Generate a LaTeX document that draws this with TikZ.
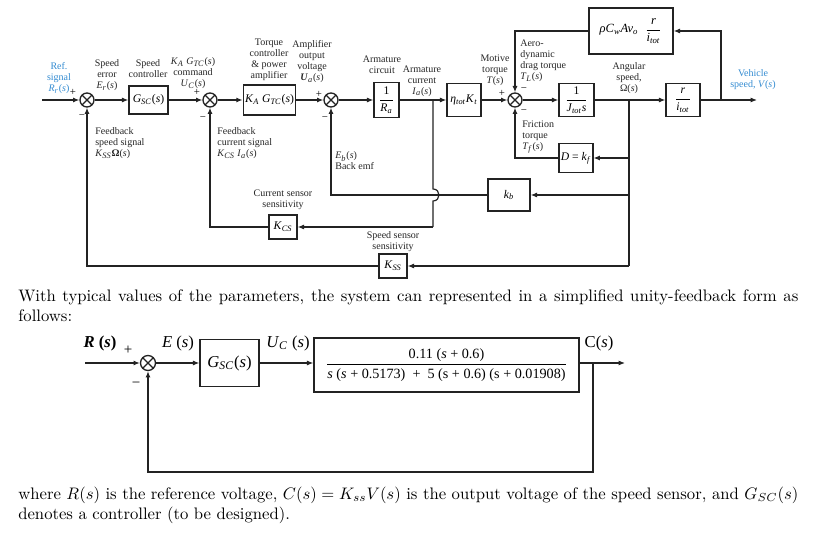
\documentclass[tikz,border=0pt]{standalone}
\usepackage{fontspec}
\newfontfamily\tnr{Liberation Serif}
\usetikzlibrary{arrows.meta}
\definecolor{refblue}{RGB}{52,140,210}
\definecolor{ln}{RGB}{35,35,35}
\newcommand\iv[1]{\textit{#1}}
\newcommand\sbs[1]{\textsubscript{#1}}
\begin{document}
\begin{tikzpicture}[x=0.6pt,y=-0.6pt,
  lbl/.style={font=\tnr\fontsize{6}{6.6}\selectfont, align=center, inner sep=0pt, text=black!85},
  lbll/.style={lbl, align=left, anchor=west},
  sgn/.style={font=\tnr\fontsize{6.5}{6.5}\selectfont, inner sep=0pt},
  blk/.style={draw=ln, line width=0.85pt, inner sep=1pt, font=\tnr\fontsize{7}{8}\selectfont},
  blkb/.style={draw=ln, line width=0.85pt, inner sep=1pt, font=\tnr\fontsize{10}{11}\selectfont},
  sumj/.style={circle, draw=ln, line width=0.8pt, minimum size=8.4pt, inner sep=0pt,
    path picture={\draw[ln,line width=0.7pt] (path picture bounding box.north west)--(path picture bounding box.south east)
      (path picture bounding box.north east)--(path picture bounding box.south west);}},
  wire/.style={draw=ln, line width=0.7pt},
  arr/.style={wire, -{Latex[length=3.8pt,width=3pt]}},
  blbl/.style={font=\tnr\fontsize{10}{11}\selectfont, inner sep=0pt},
]
\fill[white] (0,0) rectangle (820,540);
\useasboundingbox (0,0) rectangle (820,540);

% ---------- upper diagram: blocks ----------
\node[sumj] (s1) at (87,100) {};
\node[blk, minimum width=23.4pt, minimum height=16.8pt] (gsc) at (148.5,100) {\iv{G}\sbs{\iv{SC}}(\iv{s})};
\node[sumj] (s2) at (210,100) {};
\node[blk, minimum width=27pt, minimum height=18pt] (katc) at (269.5,100) {\iv{K}\sbs{\iv{A}} \iv{G}\sbs{\iv{TC}}(\iv{s})};
\node[sumj] (s3) at (331,100) {};
\node[blk, minimum width=15pt, minimum height=21pt] (ra) at (386.5,100) {$\displaystyle\frac{\mbox{1}}{\mbox{\iv{R}\sbs{\iv{a}}}}$};
\node[blk, minimum width=20.4pt, minimum height=20pt] (eta) at (464,100) {\iv{η}\sbs{\iv{tot}}\iv{K}\sbs{\iv{t}}};
\node[sumj] (s4) at (515,100) {};
\node[blk, minimum width=21pt, minimum height=20pt] (jts) at (576.5,100) {$\displaystyle\frac{\mbox{1}}{\mbox{\iv{J}\sbs{\iv{tot}}\iv{s}}}$};
\node[blk, minimum width=20.4pt, minimum height=20pt] (rit) at (683,100) {$\displaystyle\frac{\mbox{\iv{r}}}{\mbox{\iv{i}\sbs{\iv{tot}}}}$};
\node[blk, minimum width=50.4pt, minimum height=27.6pt, font=\tnr\fontsize{7.5}{8}\selectfont] (aero) at (631,31)
  {\iv{ρC}\sbs{\iv{w}}\iv{Av}\sbs{\iv{o}}\enspace$\displaystyle\frac{\mbox{\iv{r}}}{\mbox{\iv{i}\sbs{\iv{tot}}}}$};
\node[blk, minimum width=19.2pt, minimum height=17.4pt] (dkf) at (576,158) {\iv{D} = \iv{k}\sbs{\iv{f}}};
\node[blk, minimum width=25.2pt, minimum height=19.2pt] (kb) at (509,195) {\iv{k}\sbs{\iv{b}}};
\node[blk, minimum width=16.8pt, minimum height=14.4pt] (kcs) at (283,227) {\iv{K}\sbs{\iv{CS}}};
\node[blk, minimum width=16.8pt, minimum height=14.4pt] (kss) at (393,266) {\iv{K}\sbs{\iv{SS}}};

\coordinate (in1) at (42,100);
\coordinate (om) at (629,100);
\coordinate (vb) at (721,100);
\coordinate (vout) at (757,100);
\coordinate (ia) at (433,100);
\coordinate (iab) at (433,227);
\coordinate (omb) at (629,266);

% ---------- upper diagram: connectors ----------
\draw[arr] (in1) -- (s1);
\draw[arr] (s1) -- (gsc);
\draw[arr] (gsc) -- (s2);
\draw[arr] (s2) -- (katc);
\draw[arr] (katc) -- (s3);
\draw[arr] (s3) -- (ra);
\draw[arr] (ra) -- (eta);
\draw[arr] (eta) -- (s4);
\draw[arr] (s4) -- (jts);
\draw[arr] (jts) -- (rit);
\draw[arr] (rit) -- (vout);
\draw[arr] (vb) |- (aero.east);
\draw[arr] (aero.west) -| (s4.north);
\draw[wire] (om) -- (omb);
\draw[arr] (om |- dkf) -- (dkf.east);
\draw[arr] (dkf.west) -| (s4.south);
\draw[arr] (om |- kb) -- (kb.east);
\draw[arr] (kb.west) -| (s3.south);
\draw[wire] (ia) -- (433,189) .. controls (441,189) and (441,201) .. (433,201) -- (iab);
\draw[arr] (iab) -- (kcs.east);
\draw[arr] (kcs.west) -| (s2.south);
\draw[arr] (omb) -- (kss.east);
\draw[arr] (kss.west) -| (s1.south);

% ---------- upper diagram: labels ----------
\node[lbl, text=refblue] (tref) at (59,78) {Ref.\\signal\\\iv{R}\sbs{\iv{r}}(\iv{s})};
\node[lbl] (terr) at (107,75) {Speed\\error\\\iv{E}\sbs{\iv{r}}(\iv{s})};
\node[lbl] (tsc) at (148,69) {Speed\\controller};
\node[lbl] (tcmd) at (193,73) {\iv{K}\sbs{\iv{A}} \iv{G}\sbs{\iv{TC}}(\iv{s})\\command\\\iv{U}\sbs{\iv{C}}(\iv{s})};
\node[lbl] (ttc) at (269,60) {Torque\\controller\\\& power\\amplifier};
\node[lbl] (tamp) at (312,62) {Amplifier\\output\\voltage\\\textbf{\iv{U}}\sbs{\iv{a}}(\iv{s})};
\node[lbl] (tarc) at (382,65) {Armature\\circuit};
\node[lbl] (tacur) at (422,81) {Armature\\current\\\iv{I}\sbs{\iv{a}}(\iv{s})};
\node[lbl] (tmot) at (495,70) {Motive\\torque\\\iv{T}(\iv{s})};
\node[lbll] (taero) at (520,61) {Aero-\\dynamic\\drag torque\\\iv{T}\sbs{\iv{L}}(\iv{s})};
\node[lbl] (tang) at (629,78) {Angular\\speed,\\Ω(\iv{s})};
\node[lbl, text=refblue] (tveh) at (753,80) {Vehicle\\speed, \iv{V}(\iv{s})};
\node[lbll] (tfbs) at (95,143) {Feedback\\speed signal\\\iv{K}\sbs{\iv{SS}}\textbf{Ω}(\iv{s})};
\node[lbll] (tfbc) at (217,143) {Feedback\\current signal\\\iv{K}\sbs{\iv{CS}} \iv{I}\sbs{\iv{a}}(\iv{s})};
\node[lbll] (temf) at (335,161) {\iv{E}\sbs{\iv{b}}(\iv{s})\\Back emf};
\node[lbll] (tfric) at (522,137) {Friction\\torque\\\iv{T}\sbs{\iv{f}}(\iv{s})};
\node[lbl] (tcss) at (283,200) {Current sensor\\sensitivity};
\node[lbl] (tsss) at (393,242) {Speed sensor\\sensitivity};
\node[sgn] (p1) at (73,92) {+};
\node[sgn] (p2) at (197,92) {+};
\node[sgn] (p3) at (319,94) {+};
\node[sgn] (p4) at (502,93) {+};
\node[sgn] (m1) at (82,117) {−};
\node[sgn] (m2) at (203,119) {−};
\node[sgn] (m3) at (325,119) {−};
\node[sgn] (m4) at (524,90) {−};
\node[sgn] (m5) at (524,112) {−};

% ---------- paragraph 1 ----------
\node[anchor=north west, inner sep=0pt, text width=468pt, align=justify, font=\fontsize{10}{12}\selectfont] (para1) at (18,287)
  {\noindent\strut With typical values of the parameters, the system can represented in a simplified unity-feedback form as follows:};

% ---------- lower diagram ----------
\node[sumj, minimum size=9pt] (bs) at (148,363) {};
\node[blkb, minimum width=35.4pt, minimum height=28.2pt] (bg) at (229.5,363) {\iv{G}\sbs{\iv{SC}}(\iv{s})};
\node[blk, minimum width=159pt, minimum height=32.4pt, font=\tnr\fontsize{8.5}{9}\selectfont] (bp) at (446.5,365)
  {$\displaystyle\frac{\mbox{0.11 (\iv{s} + 0.6)}}{\mbox{\iv{s} (\iv{s} + 0.5173)\enspace+\enspace5 (s + 0.6) (s + 0.01908)}}$};
\coordinate (bin) at (85,363);
\coordinate (bout) at (625,363);
\coordinate (bbr) at (593,363);
\coordinate (bbot) at (593,472);
\draw[arr] (bin) -- (bs);
\draw[arr] (bs) -- (bg);
\draw[arr] (bg) -- (bg -| bp.west);
\draw[arr] (bg -| bp.east) -- (bout);
\draw[arr] (bbr) -- (bbot) -| (bs.south);
\node[blbl] (lr) at (100,343) {\textbf{\iv{R} (\iv{s})}};
\node[blbl] (le) at (178,343) {\iv{E} (\iv{s})};
\node[blbl] (lu) at (288,343) {\iv{U}\sbs{\iv{C}} (\iv{s})};
\node[blbl] (lc) at (599,343) {C(\iv{s})};
\node[blbl, font=\tnr\fontsize{9}{9}\selectfont] (bp1) at (128,350) {+};
\node[blbl, font=\tnr\fontsize{9}{9}\selectfont] (bm1) at (136,385) {−};

% ---------- paragraph 2 ----------
\node[anchor=north west, inner sep=0pt, text width=468pt, align=justify, font=\fontsize{10}{12}\selectfont] (para2) at (18,485)
  {\noindent\strut where $R(s)$ is the reference voltage, $C(s) = K_{ss}V(s)$ is the output voltage of the speed sensor, and $G_{SC}(s)$ denotes a controller (to be designed).};
\end{tikzpicture}
\end{document}
